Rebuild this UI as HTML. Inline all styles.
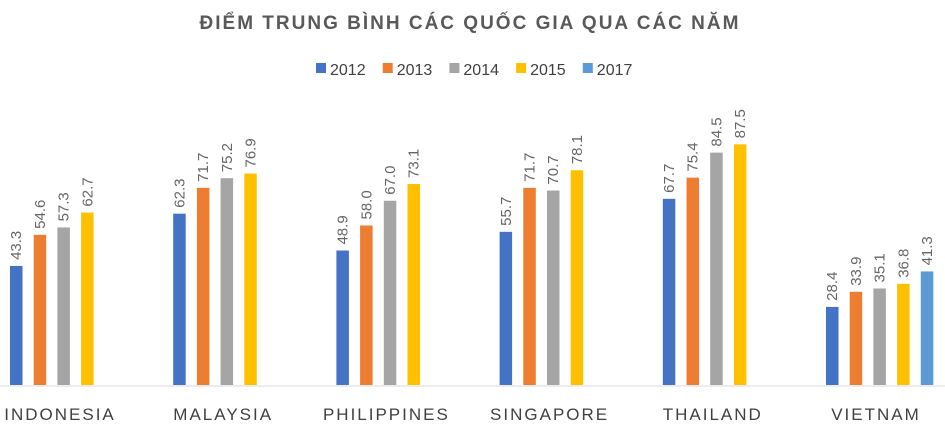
<!DOCTYPE html>
<html><head><meta charset="utf-8"><style>
html,body{margin:0;padding:0;background:#fff;}
svg{display:block;font-family:"Liberation Sans",sans-serif;}
</style></head><body>
<svg id="chart" width="945" height="429">
<text x="470" y="29" text-anchor="middle" font-size="19" font-weight="bold" fill="#595959" letter-spacing="2">ĐIỂM TRUNG BÌNH CÁC QUỐC GIA QUA CÁC NĂM</text>
<g id="legend"></g>
<line x1="0" y1="386" x2="945" y2="386" stroke="#d9d9d9" stroke-width="1"/>
<g id="bars"></g>
<g id="cats"></g>
</svg>
<script>
const categories = ["INDONESIA","MALAYSIA","PHILIPPINES","SINGAPORE","THAILAND","VIETNAM"];
const seriesNames = ["2012","2013","2014","2015","2017"];
const s2012 = [43.3,62.3,48.9,55.7,67.7,28.4];
const s2013 = [54.6,71.7,58.0,71.7,75.4,33.9];
const s2014 = [57.3,75.2,67.0,70.7,84.5,35.1];
const s2015 = [62.7,76.9,73.1,78.1,87.5,36.8];
const s2017 = [null,null,null,null,null,41.3];
const series = [s2012,s2013,s2014,s2015,s2017];
const colors = ["#4472c4","#ed7d31","#a5a5a5","#ffc000","#5b9bd5"];
const NS="http://www.w3.org/2000/svg";
const base=385, k=2.75;
const y=v=>base-v*k;
const xCat=i=>10+163.2*i;
const xBar=(i,j)=>xCat(i)+23.7*j;
const bars=document.getElementById('bars');
series.forEach((arr,j)=>{arr.forEach((v,i)=>{
 if(v==null)return;
 const r=document.createElementNS(NS,'rect');
 r.setAttribute('x',xBar(i,j));r.setAttribute('y',y(v));r.setAttribute('width',12.5);r.setAttribute('height',base-y(v));r.setAttribute('fill',colors[j]);
 
 
 bars.appendChild(r);
 const t=document.createElementNS(NS,'text');
 const cx=xBar(i,j)+6.25+5, cy=y(v)-6;
 t.setAttribute('x',cx);t.setAttribute('y',cy);t.setAttribute('transform','rotate(-90 '+cx+' '+cy+')');
 t.setAttribute('font-size','15');t.setAttribute('fill','#666');
 t.textContent=v.toFixed(1);
 
 
 bars.appendChild(t);
});});
const cats=document.getElementById('cats');
categories.forEach((c,i)=>{
 const t=document.createElementNS(NS,'text');
 t.setAttribute('x',xCat(i)+50);t.setAttribute('y',420);t.setAttribute('text-anchor','middle');
 t.setAttribute('font-size','17');t.setAttribute('fill','#404040');t.setAttribute('letter-spacing','2');
 t.textContent=c;
 
 
 cats.appendChild(t);
});
const lg=document.getElementById('legend');
seriesNames.forEach((n,j)=>{
 const x0=316+66.7*j;
 const r=document.createElementNS(NS,'rect');
 r.setAttribute('x',x0);r.setAttribute('y',63);r.setAttribute('width',10);r.setAttribute('height',10);r.setAttribute('fill',colors[j]);
 
 
 lg.appendChild(r);
 const t=document.createElementNS(NS,'text');
 t.setAttribute('x',x0+14);t.setAttribute('y',75);t.setAttribute('font-size','16');t.setAttribute('fill','#404040');
 t.textContent=n;
 
 
 lg.appendChild(t);
});
</script>
</body></html>
